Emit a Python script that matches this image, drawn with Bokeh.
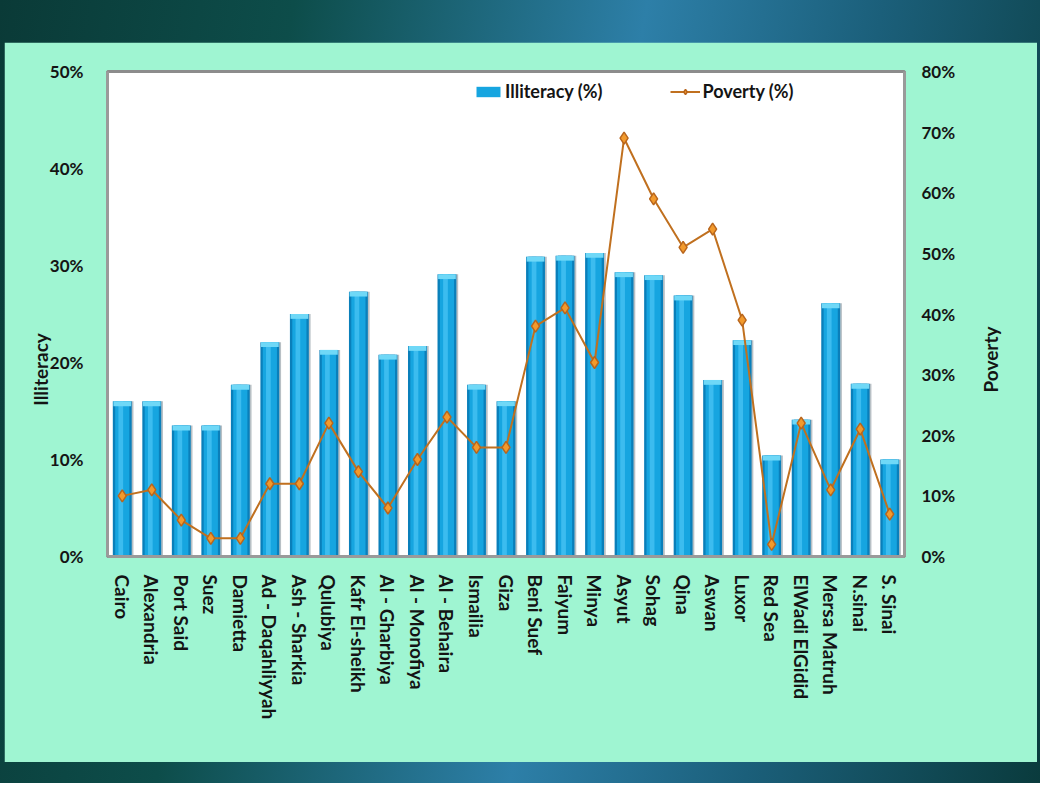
import math
from bokeh.plotting import figure
from bokeh.models import (Range1d, LinearAxis, FixedTicker, PrintfTickFormatter,
                          Legend, LegendItem, ColumnDataSource, Label)
from bokeh.layouts import column
from bokeh.transform import dodge
from bokeh.embed import file_html
from bokeh.resources import INLINE

governorates = ["Cairo", "Alexandria", "Port Said", "Suez", "Damietta",
                "Ad - Daqahliyyah", "Ash - Sharkia", "Qulubiya", "Kafr El-sheikh",
                "Al - Gharbiya", "Al - Monofiya", "Al - Behaira", "Ismailia", "Giza",
                "Beni Suef", "Faiyum", "Minya", "Asyut", "Sohag", "Qina", "Aswan",
                "Luxor", "Red Sea", "ElWadi ElGidid", "Mersa Matruh", "N.sinai", "S. Sinai"]
illiteracy = [16.0, 16.0, 13.5, 13.5, 17.7, 22.1, 25.0, 21.3, 27.3, 20.8, 21.7, 29.1,
              17.7, 16.0, 30.9, 31.0, 31.3, 29.3, 29.0, 26.9, 18.2, 22.3, 10.4, 14.1,
              26.1, 17.8, 10.0]
poverty = [10, 11, 6, 3, 3, 12, 12, 22, 14, 8, 16, 23, 18, 18, 38, 41, 32, 69, 59, 51,
           54, 39, 2, 22, 11, 21, 7]
left_ticks = [0, 10, 20, 30, 40, 50]
right_ticks = [0, 10, 20, 30, 40, 50, 60, 70, 80]

src = ColumnDataSource(dict(
    g=governorates, ill=illiteracy, pov=poverty,
    cap=[v - 0.5 for v in illiteracy],
))

FONT = "Lato"
TXT = "#141414"

p = figure(width=1033, height=720, x_range=governorates, y_range=Range1d(0, 50),
           output_backend="svg", toolbar_location=None,
           min_border_left=103, min_border_right=133, min_border_top=29,
           min_border_bottom=206,
           border_fill_color="#9ff5d2", background_fill_color="white",
           outline_line_color="#8c8c8c", outline_line_width=3)
p.extra_y_ranges = {"pov": Range1d(0, 80)}
p.x_range.range_padding = 0
p.grid.visible = False

# bars with a cylindrical look
shadow = p.vbar(x=dodge("g", 0.07, range=p.x_range), top="ill", width=0.62, source=src,
                fill_color="#7d8c96", fill_alpha=0.55, line_color=None)
body = p.vbar(x="g", top="ill", width=0.64, source=src,
              fill_color="#0a7fba", line_color=None)
inner = p.vbar(x="g", top="ill", width=0.48, source=src,
               fill_color="#16a5e0", line_color=None)
hl = p.vbar(x=dodge("g", -0.05, range=p.x_range), top="ill", width=0.16, source=src,
            fill_color="#3cbcef", line_color=None)
cap = p.vbar(x="g", top="ill", bottom="cap", width=0.6, source=src,
             fill_color="#6fd8f7", line_color=None)

# poverty line
ln = p.line(x="g", y="pov", source=src, y_range_name="pov",
            line_color="#c0701f", line_width=2)
mk = p.scatter(x="g", y="pov", source=src, y_range_name="pov", marker="diamond",
               size=12, fill_color="#f29a2c", line_color="#b8651c", line_width=1.5)

# axes
yl = p.yaxis[0]
yl.ticker = FixedTicker(ticks=left_ticks)
yl.formatter = PrintfTickFormatter(format="%d%%")

yr = LinearAxis(y_range_name="pov", ticker=FixedTicker(ticks=right_ticks),
                formatter=PrintfTickFormatter(format="%d%%"))
p.add_layout(yr, "right")

for ax in (yl, yr):
    ax.axis_line_color = "#9a9a9a"
    ax.axis_line_width = 3
    ax.major_tick_line_color = None
    ax.minor_tick_line_color = None
    ax.major_label_text_font = FONT
    ax.major_label_text_font_style = "bold"
    ax.major_label_text_font_size = "17px"
    ax.major_label_text_color = TXT
yl.major_label_standoff = 18
yr.major_label_standoff = 11

# axis titles as labels in the side panels
lab_l = Label(x=17, y=187, x_units="screen", y_units="screen", text="Illiteracy",
              angle=math.pi / 2, text_align="center", text_baseline="middle",
              text_font=FONT, text_font_style="bold", text_font_size="19px",
              text_color=TXT)
lab_r = Label(x=32, y=197, x_units="screen", y_units="screen", text="Poverty",
              angle=math.pi / 2, text_align="center", text_baseline="middle",
              text_font=FONT, text_font_style="bold", text_font_size="19px",
              text_color=TXT)
p.add_layout(lab_l, "left")
p.add_layout(lab_r, "right")

xa = p.xaxis[0]
xa.axis_line_color = "#9a9a9a"
xa.axis_line_width = 3
xa.major_tick_line_color = None
xa.minor_tick_line_color = None
xa.major_label_orientation = "vertical"
xa.major_label_standoff = 12
xa.major_label_text_font = FONT
xa.major_label_text_font_style = "bold"
xa.major_label_text_font_size = "19px"
xa.major_label_text_color = TXT

legend = Legend(items=[LegendItem(label="Illiteracy (%)", renderers=[inner]),
                       LegendItem(label="Poverty (%)", renderers=[ln, mk])],
                orientation="horizontal", location=(366, 454),
                background_fill_alpha=0, border_line_color=None,
                padding=0, margin=0, spacing=68, label_standoff=2,
                glyph_width=30, glyph_height=13, label_height=20,
                label_text_font=FONT, label_text_font_style="bold",
                label_text_font_size="18px", label_text_color=TXT)
p.add_layout(legend)

layout = column(p, styles={
    "background": "linear-gradient(100deg, #0a3a37 0%, #0d4d4a 25%, #2d7fa8 55%, #1b5f7a 75%, #0a3b3d 100%)",
    "padding": "42px 3px 21px 4px",
})

open("out.html", "w").write(file_html(layout, INLINE))
